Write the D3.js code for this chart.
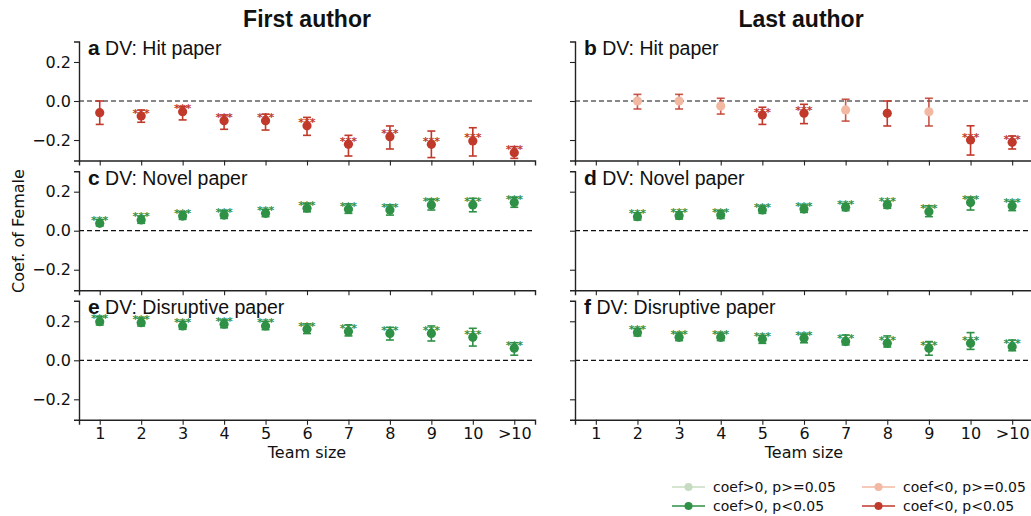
<!DOCTYPE html>
<html>
<head>
<meta charset="utf-8">
<script src="https://d3js.org/d3.v7.min.js"></script>
<style>
  body { margin: 0; background: #fff; }
  svg { display: block; }
</style>
</head>
<body>
<svg id="chart" width="1031" height="516"></svg>
<script>
// team size categories (x axis)
const teamSizes = ["1", "2", "3", "4", "5", "6", "7", "8", "9", "10", ">10"];
const yTicks = [-0.2, 0.0, 0.2];

// panel a: first author, hit paper
const hitFirstCoef = [-0.060, -0.077, -0.055, -0.101, -0.101, -0.127, -0.222, -0.183, -0.222, -0.205, -0.265];
const hitFirstLo   = [-0.120, -0.109, -0.097, -0.145, -0.149, -0.176, -0.282, -0.246, -0.290, -0.282, -0.294];
const hitFirstHi   = [ 0.000, -0.046, -0.029, -0.072, -0.067, -0.084, -0.176, -0.128, -0.154, -0.137, -0.234];
const hitFirstSig  = [1, 1, 1, 1, 1, 1, 1, 1, 1, 1, 1];
const hitFirstStars = ["", "***", "***", "***", "***", "***", "***", "***", "***", "***", "***"];

// panel b: last author, hit paper
const hitLastCoef = [null, 0.000, 0.000, -0.026, -0.072, -0.063, -0.046, -0.063, -0.055, -0.200, -0.212];
const hitLastLo   = [null, -0.041, -0.041, -0.067, -0.120, -0.116, -0.103, -0.128, -0.128, -0.277, -0.246];
const hitLastHi   = [null, 0.034, 0.034, 0.014, -0.032, -0.017, 0.009, 0.000, 0.014, -0.127, -0.179];
const hitLastSig  = [0, 0, 0, 0, 1, 1, 0, 1, 0, 1, 1];
const hitLastStars = ["", "", "", "", "***", "***", "", "", "", "***", "***"];

// panel c: first author, novel paper
const novFirstCoef = [0.038, 0.055, 0.075, 0.080, 0.089, 0.115, 0.110, 0.106, 0.132, 0.132, 0.144];
const novFirstLo   = [0.024, 0.038, 0.058, 0.063, 0.072, 0.097, 0.089, 0.080, 0.106, 0.097, 0.120];
const novFirstHi   = [0.058, 0.075, 0.097, 0.103, 0.110, 0.140, 0.137, 0.132, 0.161, 0.166, 0.171];

// panel d: last author, novel paper
const novLastCoef = [null, 0.072, 0.077, 0.080, 0.106, 0.111, 0.120, 0.132, 0.097, 0.144, 0.127];
const novLastLo   = [null, 0.055, 0.060, 0.063, 0.089, 0.094, 0.103, 0.115, 0.072, 0.106, 0.103];
const novLastHi   = [null, 0.092, 0.097, 0.103, 0.127, 0.132, 0.140, 0.150, 0.127, 0.171, 0.151];

// panel e: first author, disruptive paper
const disFirstCoef = [0.198, 0.193, 0.176, 0.185, 0.176, 0.159, 0.147, 0.138, 0.138, 0.118, 0.062];
const disFirstLo   = [0.181, 0.176, 0.159, 0.167, 0.157, 0.137, 0.125, 0.104, 0.099, 0.073, 0.026];
const disFirstHi   = [0.224, 0.217, 0.200, 0.207, 0.200, 0.186, 0.182, 0.169, 0.176, 0.164, 0.090];

// panel f: last author, disruptive paper
const disLastCoef = [null, 0.142, 0.118, 0.118, 0.108, 0.113, 0.096, 0.087, 0.062, 0.087, 0.070];
const disLastLo   = [null, 0.125, 0.101, 0.101, 0.087, 0.090, 0.079, 0.068, 0.026, 0.056, 0.049];
const disLastHi   = [null, 0.164, 0.140, 0.140, 0.128, 0.135, 0.130, 0.125, 0.096, 0.142, 0.104];

const allSig = [1, 1, 1, 1, 1, 1, 1, 1, 1, 1, 1];
const allStars = ["***", "***", "***", "***", "***", "***", "***", "***", "***", "***", "***"];

const legendLabels = ["coef>0, p>=0.05", "coef>0, p<0.05", "coef<0, p>=0.05", "coef<0, p<0.05"];

const RED = "#c0392b", RED_LIGHT = "#f3b8a2";
const GREEN = "#2e9145", GREEN_LIGHT = "#c6dcc0";
const TICK_FONT = "DejaVu Sans, sans-serif";

const svg = d3.select("#chart");

// panel geometry
const colX = [[79, 535], [575, 1033]];
const rowTop = [41.5, 171.2, 300.8];
const panelH = 119;

const panels = [
  {col: 0, row: 0, letter: "a", dv: "Hit paper", coef: hitFirstCoef, lo: hitFirstLo, hi: hitFirstHi, sig: hitFirstSig, stars: hitFirstStars},
  {col: 1, row: 0, letter: "b", dv: "Hit paper", coef: hitLastCoef, lo: hitLastLo, hi: hitLastHi, sig: hitLastSig, stars: hitLastStars},
  {col: 0, row: 1, letter: "c", dv: "Novel paper", coef: novFirstCoef, lo: novFirstLo, hi: novFirstHi, sig: allSig, stars: allStars},
  {col: 1, row: 1, letter: "d", dv: "Novel paper", coef: novLastCoef, lo: novLastLo, hi: novLastHi, sig: allSig, stars: allStars},
  {col: 0, row: 2, letter: "e", dv: "Disruptive paper", coef: disFirstCoef, lo: disFirstLo, hi: disFirstHi, sig: allSig, stars: allStars},
  {col: 1, row: 2, letter: "f", dv: "Disruptive paper", coef: disLastCoef, lo: disLastLo, hi: disLastHi, sig: allSig, stars: allStars}
];

panels.forEach(function(p) {
  var x = d3.scaleLinear().domain([0.5, 11.5]).range(colX[p.col]);
  var top = rowTop[p.row];
  var y = d3.scaleLinear().domain([-0.305, 0.305]).range([top + panelH, top]);
  var g = svg.append("g");

  // zero reference line
  g.append("line")
    .attr("x1", x.range()[0]).attr("x2", x.range()[1])
    .attr("y1", y(0)).attr("y2", y(0))
    .attr("stroke", "#111").attr("stroke-width", 1.2)
    .attr("stroke-dasharray", "5,3");

  // y axis (labels only in left column)
  var yAxis = d3.axisLeft(y).tickValues(yTicks).tickSize(5).tickPadding(3)
    .tickFormat(p.col === 0 ? function(d) { return d3.format(".1f")(d).replace("-", "\u2212"); } : "");
  var ya = g.append("g").attr("transform", "translate(" + x.range()[0] + ",0)").call(yAxis);

  // x axis (labels only in bottom row)
  var xAxis = d3.axisBottom(x).tickValues(d3.range(1, 12)).tickSize(5).tickPadding(3)
    .tickFormat(p.row === 2 ? function(d) { return teamSizes[d - 1]; } : "");
  var xa = g.append("g").attr("transform", "translate(0," + (top + panelH) + ")").call(xAxis);

  [ya, xa].forEach(function(a) {
    a.select(".domain").attr("stroke", "#222").attr("stroke-width", 1.4);
    a.selectAll(".tick line").attr("stroke", "#222").attr("stroke-width", 1.1);
    a.selectAll(".tick text").attr("font-family", TICK_FONT).attr("font-size", 16).attr("fill", "#111");
  });

  var pos = p.coef[0] !== null ? p.coef[0] : p.coef[1];
  var dark = pos > 0 ? GREEN : RED;
  var light = dark === GREEN ? GREEN_LIGHT : RED_LIGHT;

  var pts = p.coef.map(function(v, i) {
    return {i: i + 1, v: v, lo: p.lo[i], hi: p.hi[i], sig: p.sig[i], star: p.stars[i]};
  }).filter(function(d) { return d.v !== null; });

  var pt = g.selectAll("g.pt").data(pts).enter().append("g").attr("class", "pt");
  var cap = 4;
  pt.append("line")
    .attr("x1", function(d) { return x(d.i); }).attr("x2", function(d) { return x(d.i); })
    .attr("y1", function(d) { return y(d.lo); }).attr("y2", function(d) { return y(d.hi); })
    .attr("stroke", dark).attr("stroke-width", 1.6)
    .attr("stroke-opacity", function(d) { return d.sig ? 1 : 0.85; });
  [ "lo", "hi" ].forEach(function(k) {
    pt.append("line")
      .attr("x1", function(d) { return x(d.i) - cap; }).attr("x2", function(d) { return x(d.i) + cap; })
      .attr("y1", function(d) { return y(d[k]); }).attr("y2", function(d) { return y(d[k]); })
      .attr("stroke", dark).attr("stroke-width", 1.6)
      .attr("stroke-opacity", function(d) { return d.sig ? 1 : 0.85; });
  });
  pt.append("circle")
    .attr("cx", function(d) { return x(d.i); }).attr("cy", function(d) { return y(d.v); })
    .attr("r", 4.6)
    .attr("fill", function(d) { return d.sig ? dark : light; });
  pt.append("text")
    .attr("x", function(d) { return x(d.i); }).attr("y", function(d) { return y(d.v) + 0.5; })
    .attr("text-anchor", "middle")
    .attr("font-family", TICK_FONT).attr("font-size", 11).attr("font-weight", "bold")
    .attr("fill", dark)
    .text(function(d) { return d.star; });

  // panel label
  var lab = g.append("text")
    .attr("x", x.range()[0] + 9).attr("y", top + 13.5)
    .attr("font-family", "Liberation Sans, Arial, sans-serif").attr("font-size", 19.5).attr("fill", "#111");
  lab.append("tspan").attr("font-weight", "bold").attr("font-size", 21).text(p.letter);
  lab.append("tspan").text(" DV: " + p.dv);

  if (p.row === 2) {
    g.append("text")
      .attr("x", (colX[p.col][0] + colX[p.col][1]) / 2).attr("y", 458)
      .attr("text-anchor", "middle")
      .attr("font-family", TICK_FONT).attr("font-size", 16).attr("fill", "#111")
      .text("Team size");
  }
});

// column titles
["First author", "Last author"].forEach(function(t, k) {
  svg.append("text")
    .attr("x", (colX[k][0] + colX[k][1]) / 2 + (k ? -3 : 0)).attr("y", 27)
    .attr("text-anchor", "middle")
    .attr("font-family", "Liberation Sans Narrow, Liberation Sans, Arial, sans-serif")
    .attr("font-weight", "bold").attr("font-size", 23).attr("fill", "#111")
    .text(t);
});

// shared y label
svg.append("text")
  .attr("transform", "translate(24,231) rotate(-90)")
  .attr("text-anchor", "middle")
  .attr("font-family", TICK_FONT).attr("font-size", 16).attr("fill", "#111")
  .text("Coef. of Female");

// legend
var legColors = [GREEN_LIGHT, GREEN, RED_LIGHT, RED];
var legend = svg.append("g").selectAll("g").data(legendLabels).enter().append("g")
  .attr("transform", function(d, i) {
    return "translate(" + (i < 2 ? 672 : 862) + "," + (i % 2 === 0 ? 487 : 506) + ")";
  });
legend.append("line").attr("x1", 0).attr("x2", 33).attr("y1", 0).attr("y2", 0)
  .attr("stroke", function(d, i) { return legColors[i]; }).attr("stroke-width", 1.6);
legend.append("circle").attr("cx", 16.5).attr("cy", 0).attr("r", 4)
  .attr("fill", function(d, i) { return legColors[i]; });
legend.append("text").attr("x", 41).attr("y", 5)
  .attr("font-family", TICK_FONT).attr("font-size", 14).attr("fill", "#111")
  .text(function(d) { return d; });
</script>
</body>
</html>
